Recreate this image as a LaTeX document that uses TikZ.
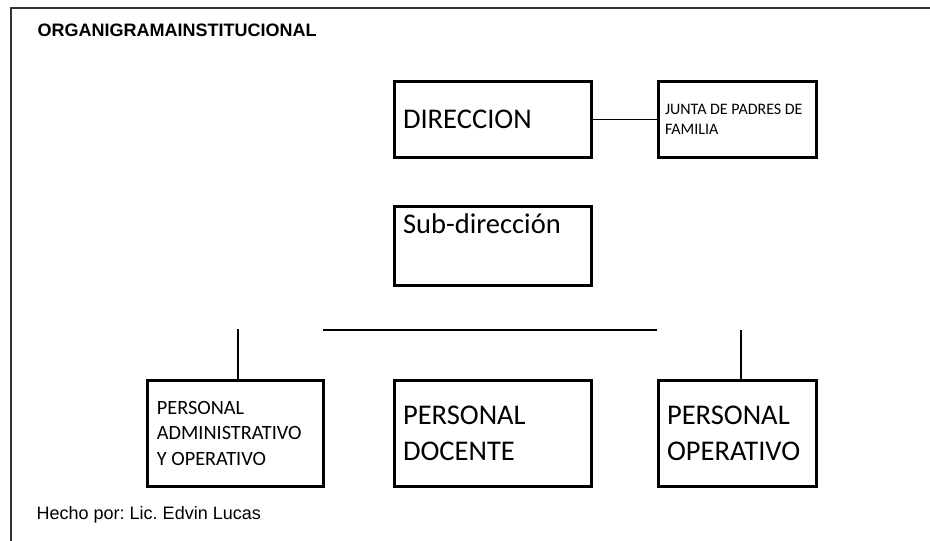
\documentclass[tikz,border=0pt]{standalone}
\usepackage{fontspec}
\setmainfont{Carlito}
\newfontfamily\arial{Liberation Sans}
\usetikzlibrary{positioning,calc}
\frenchspacing
\tikzstyle{block}=[draw, line width=2.25pt, inner xsep=6.75pt, inner ysep=4pt, align=flush left]
\tikzstyle{big}=[font=\fontsize{21.4}{26.3}\selectfont]
\tikzstyle{small}=[font=\fontsize{15.2}{19}\selectfont]
\tikzstyle{tiny}=[font=\fontsize{12}{15}\selectfont]
\tikzstyle{link}=[line width=1.3pt]

\begin{document}
\begin{tikzpicture}[x=0.75pt,y=-0.75pt,node distance=48pt]
    \useasboundingbox (0,0) rectangle (930,541);
    % marco
    \draw[line width=1.5pt, black!80] (11,541) -- (11,8) -- (930,8);
    \node [anchor=base west, font=\arial\bfseries\fontsize{13.5}{16}\selectfont] (tit) at (33,37) {ORGANIGRAMAINSTITUCIONAL};
    \node [anchor=base west, font=\arial\fontsize{13.5}{16}\selectfont] (autor) at (32,519) {Hecho por: Lic. Edvin Lucas};
    % cajas
    \node [block, big, text width=134.25pt, minimum height=57pt] (dir) at (492.5,119.5) {DIRECCION};
    \node [block, tiny, inner xsep=5.25pt, text width=108.4pt, minimum height=57pt] (junta) [right=of dir] {JUNTA DE PADRES DE\\FAMILIA};
    \node [block, big, text width=134.25pt, text height=16.5pt, text depth=34.4pt] (sub) [below=34.5pt of dir] {Sub-dirección};
    \node [block, big, text width=134.25pt, minimum height=80pt] (doc) [below=69pt of sub] {PERSONAL\\DOCENTE};
    \node [block, small, text width=118pt, minimum height=80pt] (adm) [left=50.8pt of doc] {PERSONAL\\ADMINISTRATIVO\\Y OPERATIVO};
    \node [block, big, text width=105.4pt, minimum height=80pt] (oper) [right=of doc] {PERSONAL\\OPERATIVO};
    % lineas
    \coordinate (hl) at (323,330);
    \coordinate (hr) at (657,330);
    \coordinate (vl) at (238,329);
    \coordinate (vr) at (741,330);
    \draw[link] (dir) -- (junta);
    \draw[link] (hl) -- (hr);
    \draw[link] (vl) -- (vl |- adm.north);
    \draw[link] (vr) -- (vr |- oper.north);
\end{tikzpicture}
\end{document}
